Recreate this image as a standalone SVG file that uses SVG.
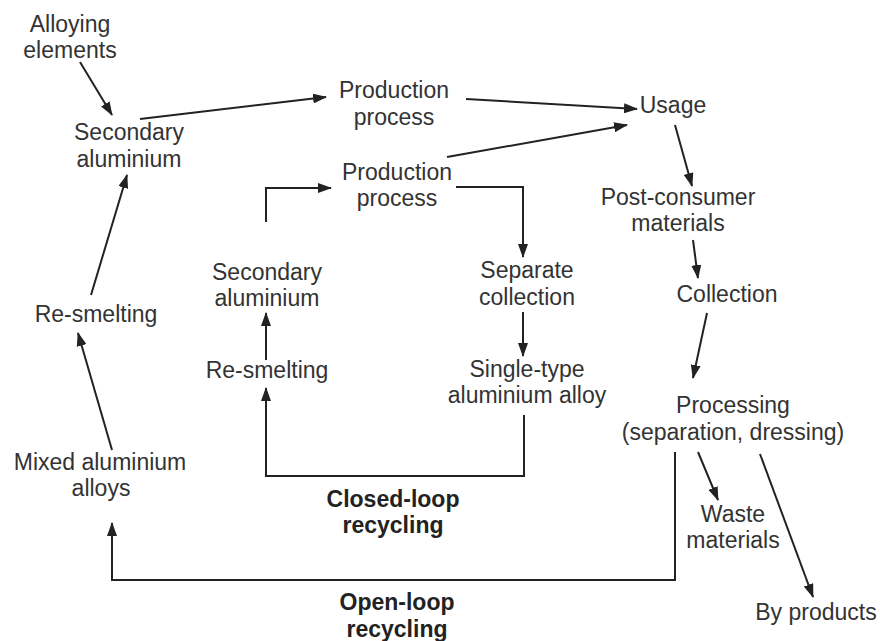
<svg xmlns="http://www.w3.org/2000/svg" width="880" height="641" viewBox="0 0 880 641">
<defs>
<marker id="ah" viewBox="0 0 14 10" refX="13" refY="5" markerWidth="14" markerHeight="10" markerUnits="userSpaceOnUse" orient="auto">
<path d="M0,0 L14,5 L0,10 Z" fill="#222"/>
</marker>
</defs>
<style>
text{font-family:"Liberation Sans",Arial,sans-serif;font-size:23px;fill:#333;text-anchor:middle}
.b{font-weight:bold;fill:#222}
.c line,.c path{stroke:#222;stroke-width:2;fill:none}
.a{marker-end:url(#ah)}
</style>
<rect width="880" height="641" fill="#fff"/>
<g id="alloying"><text x="70" y="32">Alloying</text><text x="70" y="58">elements</text></g>
<g id="secondary1"><text x="129" y="140">Secondary</text><text x="129" y="167">aluminium</text></g>
<g id="production1"><text x="394" y="98">Production</text><text x="394" y="125">process</text></g>
<g id="production2"><text x="397" y="180">Production</text><text x="397" y="206">process</text></g>
<g id="usage"><text x="673" y="113">Usage</text></g>
<g id="postconsumer"><text x="678" y="205">Post-consumer</text><text x="678" y="231">materials</text></g>
<g id="collection"><text x="727" y="302">Collection</text></g>
<g id="resmelting1"><text x="96" y="322">Re-smelting</text></g>
<g id="secondary2"><text x="267" y="280">Secondary</text><text x="267" y="306">aluminium</text></g>
<g id="resmelting2"><text x="267" y="378">Re-smelting</text></g>
<g id="separate"><text x="527" y="278">Separate</text><text x="527" y="305">collection</text></g>
<g id="singletype"><text x="527" y="377">Single-type</text><text x="527" y="403">aluminium alloy</text></g>
<g id="processing"><text x="733" y="413">Processing</text><text x="733" y="440">(separation, dressing)</text></g>
<g id="mixed"><text x="100" y="470">Mixed aluminium</text><text x="101" y="496">alloys</text></g>
<g id="waste"><text x="733" y="522">Waste</text><text x="733" y="548">materials</text></g>
<g id="byproducts"><text x="816" y="620">By products</text></g>
<g id="closedloop"><text class="b" x="393" y="507">Closed-loop</text><text class="b" x="393" y="533">recycling</text></g>
<g id="openloop"><text class="b" x="397" y="610">Open-loop</text><text class="b" x="397" y="637">recycling</text></g>
<g id="connectors" class="c">
<line class="a" x1="80" y1="62" x2="112" y2="115"/>
<line class="a" x1="140" y1="119" x2="326" y2="97"/>
<line class="a" x1="91" y1="295" x2="127" y2="175"/>
<line class="a" x1="112" y1="450" x2="78" y2="333"/>
<path class="a" d="M266,222 V188 H331"/>
<line class="a" x1="466" y1="99" x2="637" y2="109"/>
<line class="a" x1="447" y1="157" x2="627" y2="125"/>
<line class="a" x1="675" y1="125" x2="692" y2="186"/>
<line class="a" x1="693" y1="240" x2="698" y2="278"/>
<path class="a" d="M456,187 H523 V257"/>
<line class="a" x1="523" y1="312" x2="523" y2="356"/>
<line class="a" x1="266" y1="360" x2="266" y2="313"/>
<path class="a" d="M524,415 V476 H266 V388"/>
<line class="a" x1="707" y1="313" x2="693" y2="378"/>
<path class="a" d="M675,452 V580 H112 V523"/>
<line class="a" x1="698" y1="452" x2="718" y2="500"/>
<line class="a" x1="760" y1="454" x2="813" y2="597"/>
</g>
</svg>
